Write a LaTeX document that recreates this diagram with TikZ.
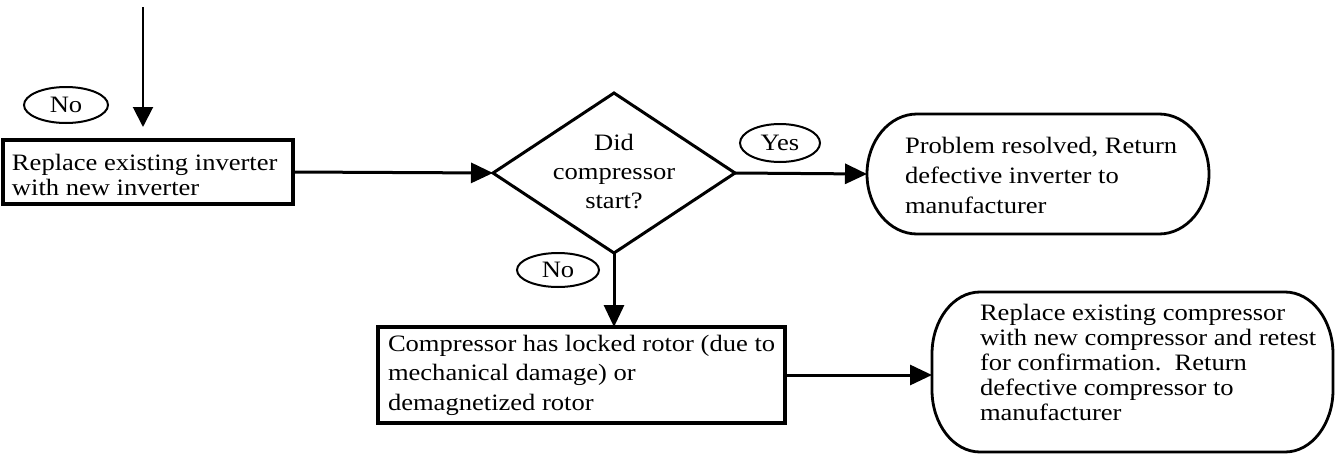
\documentclass[tikz,border=0pt]{standalone}
\usepackage{fontspec}
\setmainfont[FakeStretch=1.13]{Liberation Serif}
\usetikzlibrary{shapes.geometric,arrows.meta,calc}
\tikzset{
  every node/.style={font=\fontsize{23.5}{29.5}\selectfont},
  box/.style={draw, line width=3.5pt, rectangle, inner sep=0pt, outer sep=0pt},
  txt/.style={inner sep=0pt, outer sep=0pt, anchor=west, align=left},
  tag/.style={draw, ellipse, line width=2pt, inner sep=0pt, outer sep=0pt},
  arr/.style={line width=3pt, -{Triangle[length=22pt,width=20pt]}},
  hold/.style={rectangle, inner sep=0pt, outer sep=0pt},
  outline/.style={line width=2.8pt, line join=round},
}
\begin{document}
\begin{tikzpicture}[x=1pt,y=-1pt]
\useasboundingbox (0,0) rectangle (1338,455);

% top incoming arrow
\coordinate (topstart) at (143,7);
\coordinate (topend) at (143,127);
\draw[line width=2pt, -{Triangle[length=20pt,width=20pt]}] (topstart) -- (topend);

% No tag (top left)
\node[tag, minimum width=84pt, minimum height=36pt] (no1) at (66,105) {No};

% box 1
\node[box, minimum width=290pt, minimum height=64pt] (box1) at (148,172) {};
\node[txt, font=\fontsize{23.5}{25}\selectfont] (box1t) at (12,175) {Replace existing inverter\\with new inverter};

% decision diamond
\node[diamond, draw, line width=3pt, inner sep=0pt, outer sep=0pt, minimum width=242pt, minimum height=160pt] (dia) at (614,173) {};
\node[inner sep=0pt, align=center, font=\fontsize{23.5}{29}\selectfont] (diat) at (614,172) {Did\\compressor\\start?};

% Yes tag
\node[tag, minimum width=80pt, minimum height=38pt] (yes) at (780,143) {Yes};

% terminal 1
\node[hold, minimum width=342pt, minimum height=120pt] (s1) at (1038,174) {};
\draw[outline] ($(s1.north west)+(50,0)$) -- ($(s1.north east)+(-50,0)$)
  arc[start angle=-90, end angle=0, x radius=50, y radius=60]
  arc[start angle=0, end angle=90, x radius=50, y radius=60]
  -- ($(s1.south west)+(50,0)$)
  arc[start angle=90, end angle=180, x radius=50, y radius=60]
  arc[start angle=180, end angle=270, x radius=50, y radius=60] -- cycle;
\node[txt, font=\fontsize{23.5}{30}\selectfont] (s1t) at (905,175) {Problem resolved, Return\\defective inverter to\\manufacturer};

% No tag (below diamond)
\node[tag, minimum width=82pt, minimum height=34pt] (no2) at (558,270) {No};

% box 2
\node[box, minimum width=407pt, minimum height=96pt] (box2) at (581.5,375) {};
\node[txt] (box2t) at (388,375) {Compressor has locked rotor (due to\\mechanical damage) or\\demagnetized rotor};

% terminal 2
\node[hold, minimum width=401pt, minimum height=160pt] (s2) at (1132.5,372) {};
\draw[outline] ($(s2.north west)+(48,0)$) -- ($(s2.north east)+(-48,0)$)
  arc[start angle=-90, end angle=0, x radius=48, y radius=62]
  -- ($(s2.south east)+(0,-62)$)
  arc[start angle=0, end angle=90, x radius=48, y radius=62]
  -- ($(s2.south west)+(48,0)$)
  arc[start angle=90, end angle=180, x radius=48, y radius=62]
  -- ($(s2.north west)+(0,62)$)
  arc[start angle=180, end angle=270, x radius=48, y radius=62] -- cycle;
\node[txt, font=\fontsize{23.5}{25}\selectfont] (s2t) at (980,362) {Replace existing compressor\\with new compressor and retest\\for confirmation.\ \ Return\\defective compressor to\\manufacturer};

% connectors
\draw[arr] (box1.east) -- (dia.west);
\draw[arr] (dia.east) -- (s1.west);
\draw[arr] (dia.south) -- (dia.south |- box2.north);
\draw[arr] (box2.east) -- (box2.east -| s2.west);
\end{tikzpicture}
\end{document}
